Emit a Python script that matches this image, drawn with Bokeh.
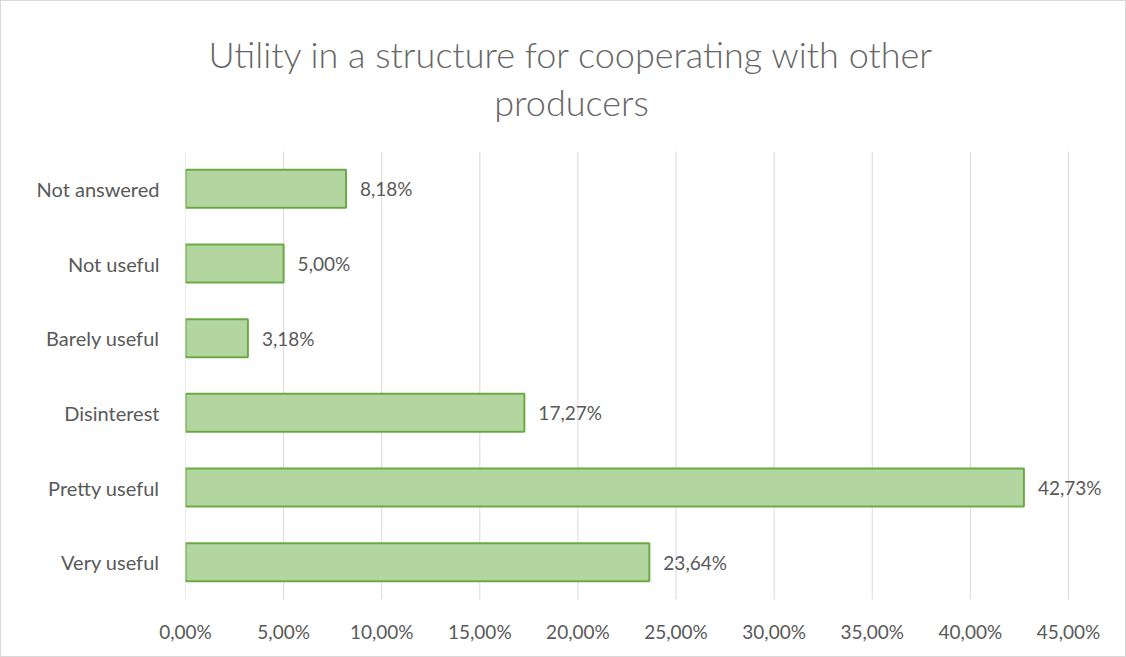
from bokeh.plotting import figure
from bokeh.models import ColumnDataSource, CustomJSTickFormatter, FixedTicker, Range1d
from bokeh.core.properties import value
from bokeh.embed import file_html
from bokeh.resources import INLINE

categories = ["Very useful", "Pretty useful", "Disinterest", "Barely useful", "Not useful", "Not answered"]
values = [23.64, 42.73, 17.27, 3.18, 5.00, 8.18]
labels = ["23,64%", "42,73%", "17,27%", "3,18%", "5,00%", "8,18%"]
ticks = [0, 5, 10, 15, 20, 25, 30, 35, 40, 45]
title_lines = ["Utility in a structure for cooperating with other", "producers"]

FONT = "Lato"
GREY = "#595959"

W, H = 1126, 657
LEFT, RIGHT, BOTTOM = 184, 10, 59
CAT_TOP_PX = 150          # pixel row where the category area starts
X_MAX = 47.5

n = len(categories)
ypos = [i + 0.5 for i in range(n)]
frame_h = H - BOTTOM
row_px = (frame_h - CAT_TOP_PX) / n
y_top = frame_h / row_px
px_per_x = (W - LEFT - RIGHT) / X_MAX

src = ColumnDataSource(dict(y=ypos, val=values, lab=labels))

p = figure(width=W, height=H, x_range=Range1d(0, X_MAX), y_range=Range1d(0, y_top),
           output_backend="svg", toolbar_location=None,
           min_border_left=LEFT, min_border_right=RIGHT, min_border_top=0, min_border_bottom=BOTTOM)
p.title.text = ""

# vertical gridlines only over the category area
p.segment(x0=ticks, y0=0, x1=ticks, y1=n, line_color="#d9d9d9", line_width=1)

p.hbar(y="y", right="val", left=0, height=0.51, source=src,
       fill_color="#b3d6a0", line_color="#6aaa45", line_width=2)
p.text(x="val", y="y", text="lab", source=src, x_offset=14,
       text_font=value(FONT), text_font_size="19px", text_color=GREY,
       text_baseline="middle", text_align="left")

# chart title, centred on the canvas
title_x = (570 - LEFT) / px_per_x
title_y = [(frame_h - 52) / row_px, (frame_h - 100) / row_px]
p.text(x=[title_x, title_x], y=title_y, text=title_lines,
       text_font=value("Lato Light"), text_font_size="36px", text_color="#666666",
       text_align="center", text_baseline="middle")

p.xaxis.ticker = FixedTicker(ticks=ticks)
p.xaxis.formatter = CustomJSTickFormatter(code="return tick.toFixed(2).replace('.', ',') + '%';")
p.yaxis.ticker = FixedTicker(ticks=ypos)
p.yaxis.formatter = CustomJSTickFormatter(args=dict(cats=categories),
    code="const i = Math.round(tick - 0.5); return (i >= 0 && i < cats.length) ? cats[i] : '';")
for ax in (p.xaxis[0], p.yaxis[0]):
    ax.axis_line_color = None
    ax.major_tick_line_color = None
    ax.minor_tick_line_color = None
    ax.major_label_text_font = FONT
    ax.major_label_text_font_size = "19px"
    ax.major_label_text_color = GREY
p.yaxis.major_label_text_font_size = "20px"
p.xaxis.major_label_standoff = 14
p.yaxis.major_label_standoff = 20

p.xgrid.grid_line_color = None
p.ygrid.grid_line_color = None
p.outline_line_color = None
p.styles = {"border": "1px solid #d9d9d9", "box-sizing": "border-box"}

open("out.html", "w").write(file_html(p, INLINE))
